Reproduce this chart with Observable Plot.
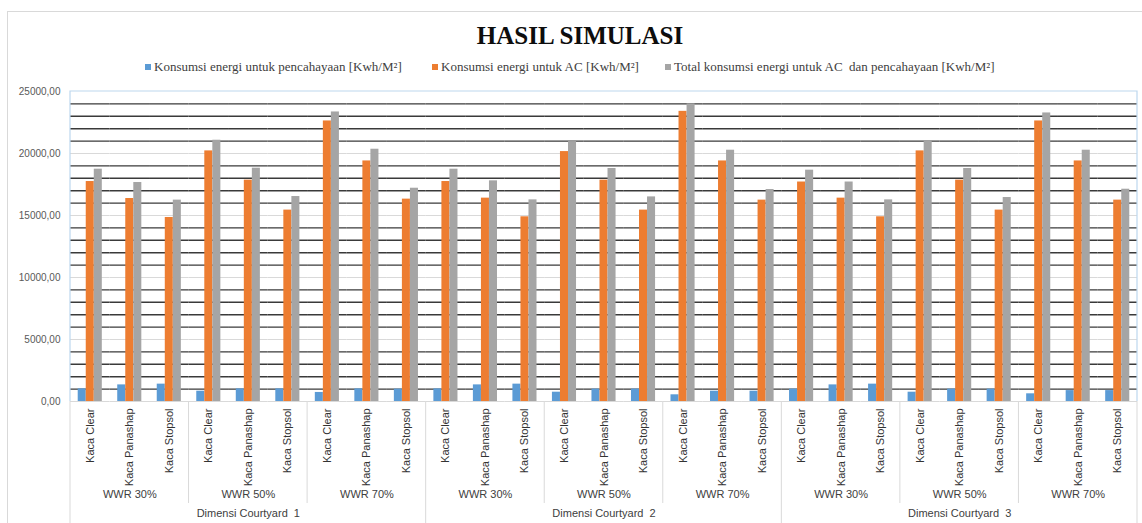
<!DOCTYPE html>
<html><head><meta charset="utf-8">
<script src="https://cdn.jsdelivr.net/npm/d3@7"></script>
<script src="https://cdn.jsdelivr.net/npm/@observablehq/plot@0.6"></script>
<style>
html,body{margin:0;padding:0;background:#fff;overflow:hidden;width:1142px;height:523px;position:relative;}
#frame{position:absolute;left:7px;top:11px;width:1160px;height:540px;border:1px solid #d9d9d9;}
#title{position:absolute;left:0;top:23px;width:1160px;text-align:center;font:bold 25px "Liberation Serif";line-height:25px;color:#0d0d0d;}
.leg{position:absolute;top:60px;font:13px "Liberation Serif";color:#404040;white-space:pre;line-height:14px;display:flex;align-items:center;}
.sw{width:6px;height:6px;margin-right:3px;display:inline-block;}
#chart{position:absolute;left:0;top:80px;}
#chart svg text{white-space:pre;}
</style></head><body>
<div id="frame"></div>
<div id="title">HASIL SIMULASI</div>
<div id="legend"></div>
<div id="chart"></div>
<script>
const glassTypes = ["Kaca Clear", "Kaca Panashap", "Kaca Stopsol"];
const wwrGroups = ["WWR 30%", "WWR 50%", "WWR 70%"];
const courtyards = ["Dimensi Courtyard  1", "Dimensi Courtyard  2", "Dimensi Courtyard  3"];
const seriesNames = [
  "Konsumsi energi untuk pencahayaan [Kwh/M\u00b2]",
  "Konsumsi energi untuk AC [Kwh/M\u00b2]",
  "Total konsumsi energi untuk AC  dan pencahayaan [Kwh/M\u00b2]"
];
const seriesColors = ["#5b9bd5", "#ed7d31", "#a5a5a5"];
const legendLefts = [145, 432, 665];

// 27 categories: courtyard 1..3 x WWR 30/50/70 x glass type
const lighting = [1020, 1340, 1400, 830, 1020, 1020, 730, 1020, 1000,
                  1020, 1340, 1400, 750, 1000, 1000, 540, 830, 830,
                  1000, 1340, 1400, 750, 1000, 1000, 620, 880, 880];
const ac = [17740, 16370, 14840, 20210, 17850, 15435, 22625, 19400, 16320,
            17740, 16400, 14895, 20155, 17850, 15435, 23400, 19400, 16240,
            17700, 16400, 14895, 20210, 17850, 15435, 22625, 19400, 16240];
const total = [18735, 17660, 16240, 21070, 18815, 16530, 23350, 20345, 17200,
               18735, 17795, 16260, 20960, 18790, 16500, 24000, 20265, 17095,
               18655, 17700, 16260, 21015, 18790, 16450, 23270, 20265, 17120];
const yTicks = [0, 5000, 10000, 15000, 20000, 25000];

const seriesValues = [lighting, ac, total];
const categories = d3.range(27).map(i => ({
  key: i,
  glass: glassTypes[i % 3],
  wwr: wwrGroups[Math.floor(i / 3) % 3],
  court: courtyards[Math.floor(i / 9)]
}));
const rows = categories.flatMap(c => seriesNames.map((s, j) => ({key: c.key, series: s, value: seriesValues[j][c.key]})));
const minorGrid = d3.range(1000, 25000, 1000).filter(v => v % 5000 !== 0);
const majorGrid = [5000, 10000, 15000, 20000];
const wwrLabels = categories.filter(c => c.key % 3 === 1);
const courtLabels = categories.filter(c => c.key % 9 === 4);

// legend
const legend = document.getElementById("legend");
seriesNames.forEach((s, j) => {
  const it = document.createElement("div");
  it.className = "leg";
  it.style.left = legendLefts[j] + "px";
  it.innerHTML = `<span class="sw" style="background:${seriesColors[j]}"></span><span></span>`;
  it.lastChild.textContent = s;
  legend.appendChild(it);
});

const plot = Plot.plot({
  width: 1142, height: 443,
  marginTop: 11, marginBottom: 122, marginLeft: 70, marginRight: 5,
  style: {fontFamily: "Liberation Sans, Arial, sans-serif", fontSize: "10.5px", background: "transparent"},
  fx: {domain: d3.range(27), padding: 0, round: false},
  x: {domain: seriesNames, paddingInner: 0, paddingOuter: 0.96, round: false, axis: null},
  y: {domain: [0, 25000]},
  color: {domain: seriesNames, range: seriesColors},
  marks: [
    Plot.ruleY(majorGrid, {stroke: "#d9d9d9", strokeWidth: 1}),
    Plot.ruleY(minorGrid, {stroke: "#3a3a3a", strokeWidth: 1.4}),
    Plot.ruleY([0], {stroke: "#d9d9d9", strokeWidth: 1}),
    Plot.barY(rows, {fx: "key", x: "series", y: "value", fill: "series"}),
    Plot.axisY({ticks: yTicks, tickFormat: d => d3.format(".2f")(d).replace(".", ","), tickSize: 0, tickPadding: 10, label: null, color: "#595959", fontSize: 10}),
    Plot.axisFx({anchor: "bottom", tickRotate: -90, tickSize: 0, tickPadding: 7, label: null, tickFormat: k => glassTypes[k % 3], color: "#333333", fontSize: 11}),
    Plot.text(wwrLabels, {fx: "key", text: "wwr", frameAnchor: "bottom", dy: 96, fontSize: 11, fill: "#404040"}),
    Plot.text(courtLabels, {fx: "key", text: "court", frameAnchor: "bottom", dy: 115, fontSize: 11, fill: "#404040"})
  ]
});
document.getElementById("chart").appendChild(plot);

// separators and plot frame, positioned from Plot's own scales
const fx = plot.scale("fx");
const ys = plot.scale("y");
const bw = fx.bandwidth;
const svg = d3.select(plot);
const y0 = ys.apply(0), yTop = ys.apply(25000);
const xStart = fx.apply(0), xEnd = fx.apply(26) + bw;
const bounds = d3.range(0, 28, 3).map(i => ({x: i < 27 ? fx.apply(i) : xEnd, long: i % 9 === 0}));
svg.append("g").selectAll("line").data(bounds).join("line")
  .attr("x1", d => d.x).attr("x2", d => d.x)
  .attr("y1", y0).attr("y2", d => d.long ? 443 : y0 + 102)
  .attr("stroke", "#d9d9d9").attr("stroke-width", 1);
svg.append("path")
  .attr("d", `M${xStart},${y0}V${yTop}H${xEnd}V${y0}`)
  .attr("fill", "none").attr("stroke", "#bdd7ee").attr("stroke-width", 1.2);
</script>
</body></html>
